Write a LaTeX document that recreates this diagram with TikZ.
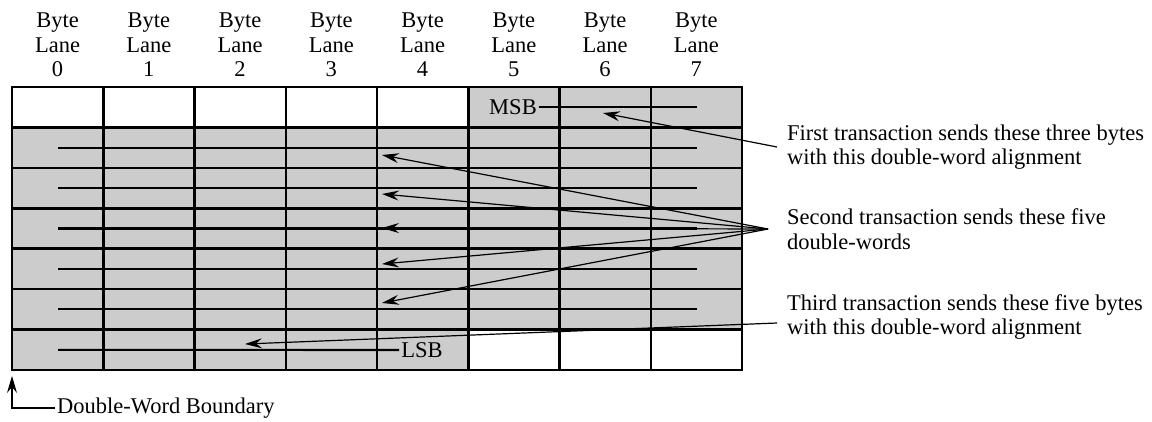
\documentclass[tikz,border=0pt]{standalone}
\usepackage{fontspec}
\setmainfont{Liberation Serif}
\usepackage{tikz}
\usetikzlibrary{arrows.meta, positioning, calc}
\definecolor{lanegray}{RGB}{204,204,204}

\begin{document}
\begin{tikzpicture}[x=1pt, y=-1pt,
    txt/.style={font=\fontsize{22.5}{24.5}\selectfont, inner sep=2pt},
    lane/.style={txt, align=center},
    note/.style={txt, align=left, anchor=west, inner xsep=10pt},
    grid/.style={line width=2.5pt},
    byteline/.style={line width=2.1pt},
    arrow/.style={line width=1.2pt, -{Stealth[length=17pt, width=10pt, inset=6pt]}}
]
\useasboundingbox (0,0) rectangle (1152,421);

%% shaded bytes
\fill[lanegray] (469,87) rectangle (742,128);
\fill[lanegray] (12,128) rectangle (742,330);
\fill[lanegray] (12,330) rectangle (469,370);

%% grid of byte lanes
\draw[grid] (12,87) rectangle (742,370);
\foreach \r in {1,...,6}
  \draw[grid] (12,{87+40.43*\r}) -- (742,{87+40.43*\r});
\foreach \c in {1,...,7}
  \draw[grid] ({12+91.25*\c},87) -- ({12+91.25*\c},370);

%% lane headers
\foreach \i in {0,...,7}
  \node[lane] (lane\i) at ({57.6+91.25*\i},45) {Byte\\Lane\\\i};

%% bytes of each double-word
\node[txt] (msb) at (513,107.2) {MSB};
\coordinate (msbend) at (697,107.2);
\draw[byteline] (msb.east) -- (msbend);
\foreach \r in {1,...,5}
  \draw[byteline] (58,{107.2+40.43*\r}) -- (697,{107.2+40.43*\r});
\node[txt] (lsb) at (422,350) {LSB};
\coordinate (lsbend) at (58,349.8);
\draw[byteline] (lsbend) -- (lsb.west);

%% transactions
\node[note] (first) at (777,147)
  {First transaction sends these three bytes\\with this double-word alignment};
\node[note] (second) at (777,229)
  {Second transaction sends these five\\double-words};
\node[note] (third) at (777,317)
  {Third transaction sends these five bytes\\with this double-word alignment};

\coordinate (t1) at (603,113);
\draw[arrow] (first.west) -- (t1);
\coordinate (fan) at ([xshift=-9pt]second.west);
\foreach \y [count=\k] in {155,194,228,264,303} {
  \coordinate (s\k) at (382,\y);
  \draw[arrow] (fan) -- (s\k);
}
\coordinate (t3) at (245,344);
\draw[arrow] ([yshift=-6pt]third.west) -- (t3);

%% boundary
\node[txt, anchor=west] (bound) at (55,408) {Double-Word Boundary};
\coordinate (edge) at (12,376);
\draw[arrow] (bound.west) -| (edge);
\end{tikzpicture}
\end{document}
